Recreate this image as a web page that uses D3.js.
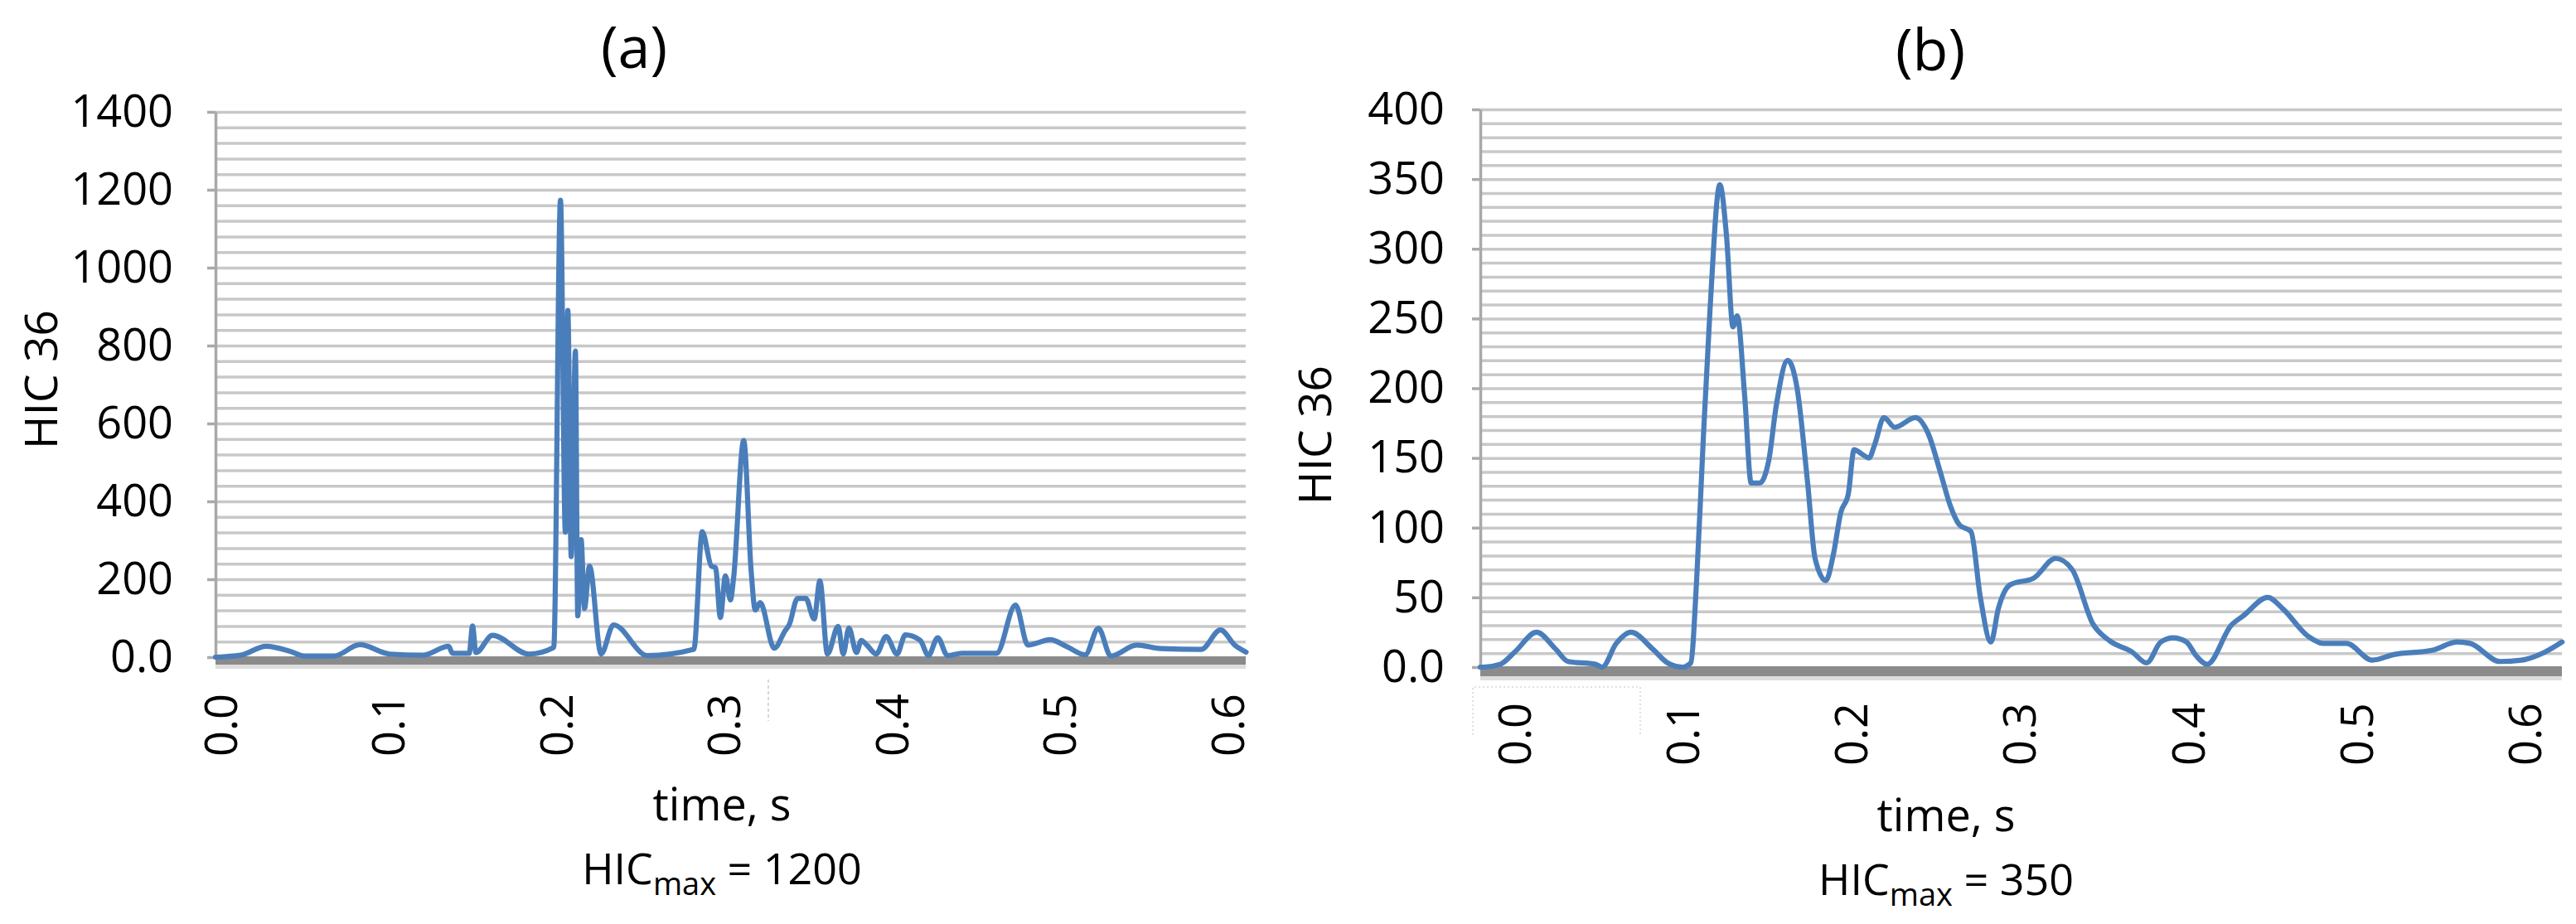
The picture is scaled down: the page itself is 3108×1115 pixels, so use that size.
<!doctype html>
<meta charset="utf-8">
<style>
  body { margin: 0; background: #fff; }
  text { font-family: "Open Sans", sans-serif; fill: #000; }
</style>
<script src="https://d3js.org/d3.v7.min.js"></script>
<body>
<svg id="chart"></svg>
<script>
// ---- data ----
// (a) HIC 36 vs time
var timeA = [-0.0030, 0.0119, 0.0272, 0.0415, 0.0499, 0.0677, 0.0830, 0.1008, 0.1206, 0.1359,
  0.1383, 0.1482, 0.1502, 0.1522, 0.1621, 0.1838, 0.1986, 0.2026, 0.2055, 0.2070,
  0.2090, 0.2115, 0.2129, 0.2149, 0.2169, 0.2199, 0.2268, 0.2342, 0.2544, 0.2821,
  0.2871, 0.2925, 0.2950, 0.2979, 0.3009, 0.3039, 0.3058, 0.3118, 0.3162, 0.3187,
  0.3216, 0.3300, 0.3365, 0.3389, 0.3439, 0.3488, 0.3538, 0.3572, 0.3617, 0.3681,
  0.3711, 0.3745, 0.3790, 0.3819, 0.3854, 0.3908, 0.3967, 0.4032, 0.4081, 0.4170,
  0.4219, 0.4274, 0.4333, 0.4417, 0.4625, 0.4738, 0.4812, 0.4946, 0.5040, 0.5153,
  0.5232, 0.5306, 0.5460, 0.5603, 0.5845, 0.5959, 0.6047, 0.6112];
var hicA = [0, 5, 28, 15, 3, 3, 32, 8, 5, 28,
  10, 10, 80, 12, 56, 8, 25, 1173, 321, 890,
  258, 786, 106, 302, 125, 234, 8, 83, 4, 20,
  322, 234, 230, 102, 209, 147, 204, 556, 224, 121,
  140, 23, 68, 83, 151, 151, 98, 196, 8, 79,
  8, 75, 12, 43, 30, 8, 53, 8, 57, 43,
  4, 50, 4, 10, 10, 134, 31, 45, 28, 6,
  74, 3, 31, 22, 20, 70, 30, 13];

// (b) HIC 36 vs time
var timeB = [-0.0200, -0.0181, -0.0082, 0.0006, 0.0134, 0.0247, 0.0321, 0.0484, 0.0523, 0.0607,
  0.0695, 0.0823, 0.0912, 0.1000, 0.1049, 0.1084, 0.1123, 0.1163, 0.1222, 0.1261,
  0.1300, 0.1325, 0.1369, 0.1408, 0.1458, 0.1512, 0.1556, 0.1625, 0.1679, 0.1743,
  0.1787, 0.1851, 0.1896, 0.1940, 0.1984, 0.2019, 0.2063, 0.2107, 0.2142, 0.2196,
  0.2260, 0.2383, 0.2457, 0.2535, 0.2589, 0.2644, 0.2713, 0.2767, 0.2831, 0.2875,
  0.2944, 0.3087, 0.3215, 0.3313, 0.3436, 0.3534, 0.3667, 0.3755, 0.3839, 0.3913,
  0.3991, 0.4050, 0.4114, 0.4257, 0.4331, 0.4474, 0.4562, 0.4715, 0.4803, 0.4941,
  0.5094, 0.5222, 0.5448, 0.5601, 0.5675, 0.5852, 0.5980, 0.6123, 0.6221];
var hicB = [0, 0, 2, 11, 25, 13, 4, 2, 0, 17,
  25, 13, 3, 0, 3, 62, 162, 255, 346, 310,
  244, 252, 195, 132, 132, 148, 187, 220, 201, 132,
  78, 62, 81, 111, 124, 156, 153, 150, 160, 179,
  172, 179, 168, 138, 116, 102, 97, 51, 18, 42,
  59, 64, 78, 70, 31, 19, 11, 3, 18, 21,
  18, 8, 2, 30, 37, 50, 42, 22, 17, 17,
  5, 9, 12, 18, 17, 4, 5, 11, 18];

var yTicksA = [0, 200, 400, 600, 800, 1000, 1200, 1400];
var yTicksB = [0, 50, 100, 150, 200, 250, 300, 350, 400];
var xTicks = [0, 0.1, 0.2, 0.3, 0.4, 0.5, 0.6];
var titles = ["(a)", "(b)"];
var maxLabels = ["1200", "350"];

var svg = d3.select("#chart").attr("width", 3108).attr("height", 1115);
svg.append("rect").attr("width", 3108).attr("height", 1115).attr("fill", "#fff");

var panels = [
  { title: titles[0], max: maxLabels[0], time: timeA, hic: hicA, yTicks: yTicksA, yMax: 1400, gridStep: 40,
    xDomain: [-0.003, 0.611], left: 260, right: 1503, y0: 793, yTop: 135, band: 10, pad: 41,
    labelTop: 837, titleX: 765, titleY: 82, ylabX: 69, ylabY: 458,
    midX: 871, timeY: 990, maxY: 1067 },
  { title: titles[1], max: maxLabels[1], time: timeB, hic: hicB, yTicks: yTicksB, yMax: 400, gridStep: 10,
    xDomain: [-0.02, 0.622], left: 1786, right: 3091, y0: 805, yTop: 132, band: 12, pad: 33,
    labelTop: 848, titleX: 2329, titleY: 85, ylabX: 1606, ylabY: 525,
    midX: 2348, timeY: 1003, maxY: 1080 }
];

panels.forEach(function(p) {
  var x = d3.scaleLinear().domain(p.xDomain).range([p.left, p.right]);
  var y = d3.scaleLinear().domain([0, p.yMax]).range([p.y0, p.yTop]);

  // horizontal gridlines at every minor step
  var grid = svg.append("g").attr("transform", "translate(" + p.left + ",0)")
    .call(d3.axisLeft(y)
      .tickValues(d3.range(p.gridStep, p.yMax + p.gridStep / 2, p.gridStep))
      .tickSize(-(p.right - p.left)).tickFormat(""));
  grid.select(".domain").remove();
  grid.selectAll("line").attr("stroke", "#c8c8c8").attr("stroke-width", 3.5);

  // thick grey floor line
  svg.append("rect").attr("x", p.left).attr("y", p.y0 - 1)
    .attr("width", p.right - p.left).attr("height", p.band).attr("fill", "#8b8b8b");
  svg.append("rect").attr("x", p.left).attr("y", p.y0 - 1 + p.band)
    .attr("width", p.right - p.left).attr("height", 5).attr("fill", "#dedede");

  // y axis
  var ya = svg.append("g").attr("transform", "translate(" + p.left + ",0)")
    .call(d3.axisLeft(y).tickValues(p.yTicks).tickSize(10).tickSizeOuter(0).tickPadding(p.pad)
      .tickFormat(function(d) { return d === 0 ? "0.0" : d; }));
  ya.attr("font-family", null).attr("font-size", null);
  ya.select(".domain").attr("stroke", "#a9a9a9").attr("stroke-width", 3.5);
  ya.selectAll("line").attr("stroke", "#a9a9a9").attr("stroke-width", 3.5);
  ya.selectAll("text").style("font-size", "54px").attr("fill", "#000");

  // x axis labels, rotated
  var xa = svg.append("g").attr("transform", "translate(0," + p.y0 + ")")
    .call(d3.axisBottom(x).tickValues(xTicks).tickSize(0).tickFormat(d3.format(".1f")));
  xa.attr("font-family", null).attr("font-size", null);
  xa.select(".domain").remove();
  xa.selectAll("text")
    .attr("transform", "rotate(-90)")
    .attr("x", -(p.labelTop - p.y0)).attr("y", 0).attr("dy", "0.36em")
    .attr("text-anchor", "end")
    .style("font-size", "54px").attr("fill", "#000");

  // the HIC curve (smoothed, as in the spreadsheet chart)
  var line = d3.line()
    .x(function(d, i) { return x(p.time[i]); })
    .y(function(d) { return y(d); })
    .curve(d3.curveMonotoneX);
  svg.append("path").datum(p.hic)
    .attr("d", line)
    .attr("fill", "none")
    .attr("stroke", "#4a7ebb")
    .attr("stroke-width", 6.2)
    .attr("stroke-linejoin", "round")
    .attr("stroke-linecap", "round");

  // texts
  svg.append("text").attr("x", p.titleX).attr("y", p.titleY)
    .attr("text-anchor", "middle").style("font-size", "70px").text(p.title);
  svg.append("text").attr("transform", "translate(" + p.ylabX + "," + p.ylabY + ") rotate(-90)")
    .attr("text-anchor", "middle").style("font-size", "55px").text("HIC 36");
  svg.append("text").attr("x", p.midX).attr("y", p.timeY)
    .attr("text-anchor", "middle").style("font-size", "54px").text("time, s");
  var hm = svg.append("text").attr("x", p.midX).attr("y", p.maxY)
    .attr("text-anchor", "middle").style("font-size", "52px");
  hm.append("tspan").text("HIC");
  hm.append("tspan").attr("dy", 13).style("font-size", "38px").text("max");
  hm.append("tspan").attr("dy", -13).text(" = " + p.max);
});

// faint leftover marks in the scanned figure
svg.append("line").attr("x1", 927).attr("x2", 927).attr("y1", 820).attr("y2", 870)
  .attr("stroke", "#d8c8c0").attr("stroke-width", 1.5).attr("stroke-dasharray", "4 3");
svg.append("path").attr("d", "M1777,887V829H1979V887")
  .attr("fill", "none").attr("stroke", "#d6d6e0").attr("stroke-width", 1.5).attr("stroke-dasharray", "2 3");
</script>
</body>
